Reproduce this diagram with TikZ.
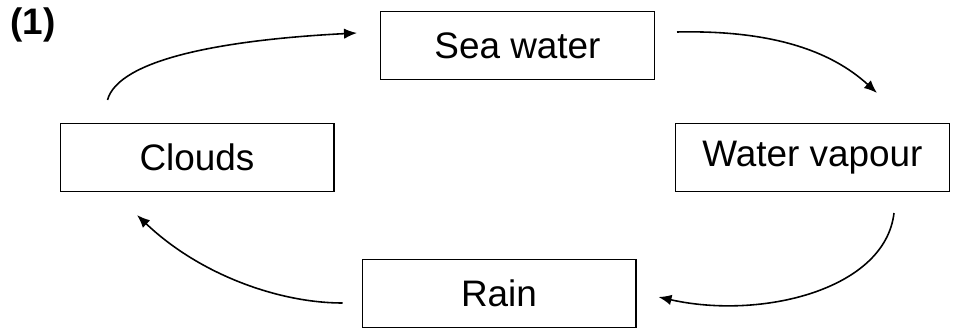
\documentclass[tikz,border=0pt]{standalone}
\usepackage{fontspec}
\setmainfont{Liberation Sans}
\usetikzlibrary{arrows.meta,calc}

\begin{document}
\begin{tikzpicture}
  [x=0.02cm,y=-0.02cm,
   every node/.style={font=\fontsize{21}{25}\selectfont},
   box/.style={draw,line width=0.6pt,minimum width=5.48cm,minimum height=1.36cm,inner sep=0pt}]
  \useasboundingbox (0,0) rectangle (953,330);
  \node[font=\fontsize{21}{25}\selectfont\bfseries] (num) at (33,25) {(1)};
  \node[box] (sea) at (517.5,45.5) {Sea water};
  \node[box] (clouds) at (197,157.5) {Clouds};
  \node[box] (vapour) at (812.5,157.5) {Water vapour};
  \node[box] (rain) at (499,293.5) {Rain};
  \begin{scope}[line width=0.9pt, -{Latex[length=2.6mm,width=2.1mm]}]
    \draw ($(clouds.north west)+(48,-23)$) .. controls +(11,-40) and +(-137,7) .. ($(sea.west)+(-23,-12.5)$);
    \draw ($(sea.east)+(22,-13.5)$) .. controls +(93,-2) and +(-47,-43) .. ($(vapour.north)+(64.5,-30)$);
    \draw ($(vapour.south)+(81.5,21)$) .. controls +(-9,77) and +(102,23) .. ($(rain.east)+(22,3.5)$);
    \draw ($(rain.west)+(-19,9.5)$) .. controls +(-63,0) and +(63,60) .. ($(clouds.south)+(-60,23)$);
  \end{scope}
\end{tikzpicture}
\end{document}
